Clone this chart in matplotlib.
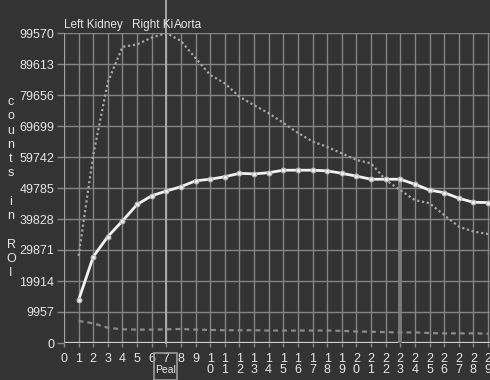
import numpy as np
import matplotlib
matplotlib.use("Agg")
import matplotlib.pyplot as plt
from matplotlib.patches import Rectangle

plt.rcParams['font.family'] = ['Liberation Sans', 'DejaVu Sans']

# frame index and the three curves (counts in ROI)
frames = list(range(1, 30))
left_kidney = [13800, 27700, 34200, 39200, 44500, 47300, 48800, 50200, 52100, 52600,
               53400, 54500, 54300, 54700, 55500, 55500, 55500, 55300, 54500, 53600,
               52600, 52600, 52600, 51000, 49100, 48300, 46500, 45200, 45100]
aorta = [28000, 60400, 83800, 95100, 95900, 98100, 99570, 97000, 91500, 86100,
         83400, 79100, 76400, 73800, 70700, 67500, 64700, 63000, 60900, 58800,
         57700, 52400, 49100, 45900, 44900, 41100, 37400, 35800, 35000]
right_kidney = [7100, 6300, 4900, 4400, 4300, 4300, 4400, 4500, 4300, 4200,
                4100, 4100, 4100, 4000, 4000, 4000, 4000, 4000, 3900, 3700,
                3600, 3500, 3400, 3400, 3200, 3100, 3100, 3100, 3000]

y_ticks = [0, 9957, 19914, 29871, 39828, 49785, 59742, 69699, 79656, 89613, 99570]
x_ticks = list(range(0, 30))
peak_frame = 7
cursor_frame = 23

bg = '#333333'
grid_c = '#858585'
txt_c = '#e6e6e6'

fig = plt.figure(figsize=(4.9, 3.8), dpi=100, facecolor=bg)
ax = fig.add_axes([64/490, 37/380, 426/490, 310/380])
ax.set_facecolor(bg)
for s in ax.spines.values():
    s.set_visible(False)

ax.set_xlim(0, 426/14.62)
ax.set_ylim(0, 99570)

ax.set_yticks(y_ticks)
ax.set_yticklabels([str(v) for v in y_ticks])
ax.set_xticks(x_ticks)
ax.set_xticklabels([str(i) if i < 10 else "%d\n%d" % (i // 10, i % 10) for i in x_ticks])
ax.tick_params(axis='y', length=5, width=1, color=grid_c, pad=2, labelsize=9, labelcolor=txt_c)
ax.tick_params(axis='x', length=3, width=1, color=grid_c, pad=4, labelsize=9, labelcolor=txt_c)
for lab in ax.get_xticklabels():
    lab.set_linespacing(0.95)

ax.grid(True, color=grid_c, linewidth=1)
ax.set_axisbelow(True)
ax.axhline(0, color='#cfcfcf', linewidth=1.6, zorder=2)
ax.axvline(0, color='#a8a8a8', linewidth=1.2, zorder=2)

# markers for peak and cursor
top_val = 99570 * 343 / 310
ax.plot([peak_frame, peak_frame], [0, top_val], color='#b0b0b0', linewidth=1.3,
        clip_on=False, zorder=2)
cur_val = left_kidney[frames.index(cursor_frame)]
ax.plot([cursor_frame, cursor_frame], [0, cur_val], color='#7a7a7a', linewidth=2.8, zorder=2)

ax.plot(frames, right_kidney, color='#8a8a8a', linestyle=(0, (2.2, 1.8)), linewidth=1.6, zorder=3)
ax.plot(frames, aorta, color='#a6a6a6', linestyle=(0, (1, 1.2)), linewidth=1.6, zorder=3)
ax.plot(frames, left_kidney, color='#f2f2f2', linewidth=2, marker='o', markersize=3.2,
        markerfacecolor='#f2f2f2', markeredgecolor='#bdbdbd', zorder=4)

# legend names along the top
fig.text(64/490, 1 - 25/380, "Left Kidney", color=txt_c, fontsize=8.5, va='center')
fig.text(132/490, 1 - 25/380, "Right Ki", color=txt_c, fontsize=8.5, va='center')
fig.text(174/490, 1 - 25/380, "Aorta", color=txt_c, fontsize=8.5, va='center')

# vertical y label
fig.text(11/490, 1 - 187.5/380, "c\no\nu\nn\nt\ns\n\ni\nn\n\nR\nO\nI", color=txt_c,
         fontsize=9, ha='center', va='center', linespacing=1.25)

# peak box under frame 7
fig.patches.append(Rectangle((154/490, 0), 23/490, 27/380, transform=fig.transFigure,
                             fill=False, edgecolor='#9a9a9a', linewidth=1.2))
fig.text(165.5/490, 1 - 370/380, "Peal", color=txt_c, fontsize=7.5, ha='center', va='center')

fig.savefig("out.png", dpi=100, facecolor=bg)
